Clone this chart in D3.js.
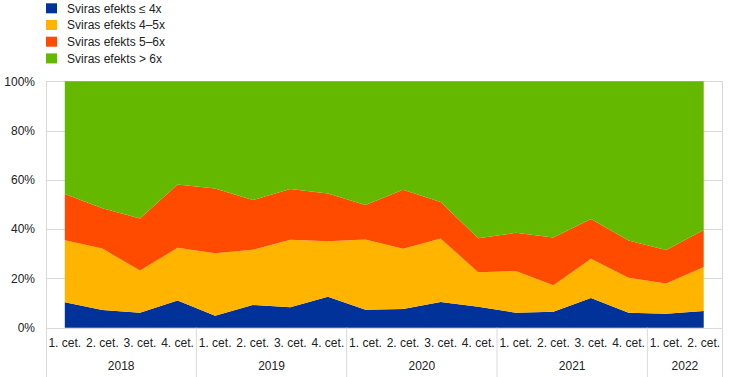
<!DOCTYPE html>
<html>
<head>
<meta charset="utf-8">
<script src="https://cdn.jsdelivr.net/npm/d3@7"></script>
<style>
html,body{margin:0;padding:0;background:#fff;}
svg{display:block;font-family:"Liberation Sans",Arial,sans-serif;}
</style>
</head>
<body>
<svg id="chart" width="743" height="377"></svg>
<script>
const quarters = ["1. cet.","2. cet.","3. cet.","4. cet.","1. cet.","2. cet.","3. cet.","4. cet.","1. cet.","2. cet.","3. cet.","4. cet.","1. cet.","2. cet.","3. cet.","4. cet.","1. cet.","2. cet."];
const years = ["2018","2019","2020","2021","2022"];
const yearCounts = [4,4,4,4,2];
const seriesNames = ["Sviras efekts ≤ 4x","Sviras efekts 4–5x","Sviras efekts 5–6x","Sviras efekts > 6x"];
const seriesColors = ["#003299","#FFB400","#FF4B00","#65B800"];
const le4 = [10.3,7.2,6.1,11.0,4.9,9.2,8.3,12.6,7.3,7.6,10.4,8.5,6.1,6.5,12.1,6.1,5.7,6.8];
const s45 = [25.2,24.9,17.1,21.4,25.3,22.4,27.4,22.5,28.5,24.4,25.8,14.0,16.9,10.7,15.9,14.2,12.2,17.8];
const s56 = [18.8,16.4,21.1,25.7,26.3,20.2,20.6,19.4,14.0,24.0,14.8,13.8,15.5,19.4,16.1,15.1,13.6,15.1];
const gt6 = le4.map((v,i)=>+(100 - v - s45[i] - s56[i]).toFixed(1));
const yTicks = [0,20,40,60,80,100];

(function(){
const rows = quarters.map((q,i)=>({i, k0:le4[i], k1:s45[i], k2:s56[i], k3:gt6[i]}));
const keys = ["k0","k1","k2","k3"];

const svg = d3.select("#chart");
const L = 46, R = 722.5, T = 81.3, B = 327.7;
const grid = "#d9d9d9";

const x = d3.scaleBand().domain(d3.range(quarters.length)).range([L,R]).padding(0);
const bw = x.bandwidth();
const y = d3.scaleLinear().domain([0,100]).range([B,T]);

// gridlines
svg.append("g").selectAll("line").data(yTicks).join("line")
  .attr("x1",L).attr("x2",R)
  .attr("y1",d=>Math.round(y(d))+0.5).attr("y2",d=>Math.round(y(d))+0.5)
  .attr("stroke",grid).attr("stroke-width",1);
// left & right border
svg.append("line").attr("x1",L+0.5).attr("x2",L+0.5).attr("y1",T).attr("y2",377).attr("stroke",grid);
svg.append("line").attr("x1",R).attr("x2",R).attr("y1",T).attr("y2",377).attr("stroke",grid);

// areas
const layers = d3.stack().keys(keys)(rows);
const area = d3.area()
  .x(d=>x(d.data.i)+bw/2)
  .y0(d=>y(d[0])).y1(d=>y(d[1]));
svg.append("g").selectAll("path").data(layers).join("path")
  .attr("d",area).attr("fill",(d,i)=>seriesColors[i]);

// y axis labels
svg.append("g").selectAll("text").data(yTicks).join("text")
  .attr("x",35).attr("y",d=>y(d)).attr("dy","0.35em")
  .attr("text-anchor","end").attr("font-size",12).attr("fill","#222")
  .text(d=>d+"%");

// x axis quarter labels
svg.append("g").selectAll("text").data(quarters).join("text")
  .attr("x",(d,i)=>x(i)+bw/2).attr("y",343).attr("dy","0.35em")
  .attr("text-anchor","middle").attr("font-size",12).attr("fill","#222")
  .text(d=>d);

// year separators and labels
let start = 0;
const yg = svg.append("g");
years.forEach((yr,j)=>{
  const x0 = x(start), x1 = x(start+yearCounts[j]-1)+bw;
  yg.append("text").attr("x",(x0+x1)/2).attr("y",366).attr("dy","0.35em")
    .attr("text-anchor","middle").attr("font-size",12).attr("fill","#222").text(yr);
  if (j>0) yg.append("line").attr("x1",x0).attr("x2",x0).attr("y1",B).attr("y2",377).attr("stroke",grid);
  start += yearCounts[j];
});

// legend
const lg = svg.append("g");
seriesNames.forEach((n,i)=>{
  const cy = 8.3 + i*16.7;
  lg.append("rect").attr("x",46).attr("y",cy-5).attr("width",11).attr("height",10).attr("fill",seriesColors[i]);
  lg.append("text").attr("x",67).attr("y",cy).attr("dy","0.35em").attr("font-size",12).attr("fill","#222").text(n);
});
})();
</script>
</body>
</html>
